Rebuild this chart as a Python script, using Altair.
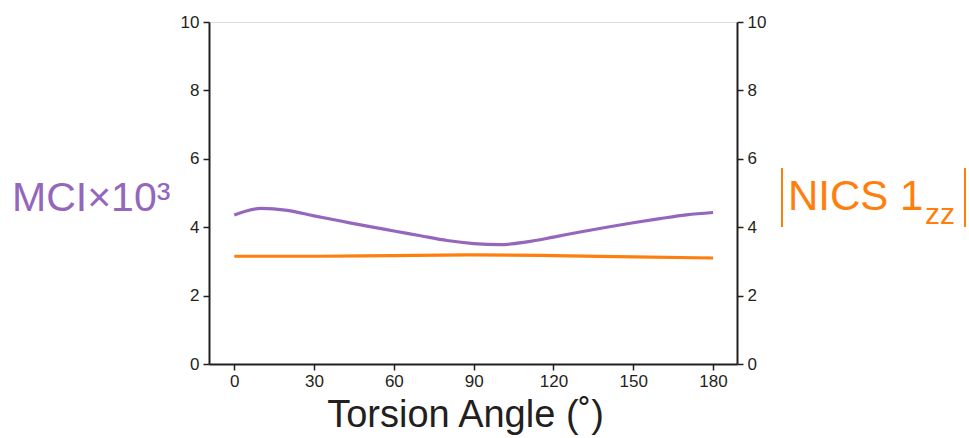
import altair as alt
import pandas as pd

angles_mci = [0, 10, 20, 30, 40, 50, 60, 70, 80, 90, 100, 110, 120, 130, 140, 150, 160, 170, 180]
mci = [4.36, 4.55, 4.49, 4.33, 4.18, 4.03, 3.89, 3.75, 3.61, 3.52, 3.49, 3.57, 3.71, 3.86, 4.00, 4.13, 4.25, 4.36, 4.43]
angles_nics = [0, 30, 60, 90, 120, 150, 180]
nics = [3.15, 3.15, 3.17, 3.19, 3.17, 3.13, 3.10]

purple = "#9467bd"
orange = "#ff7f0e"
FONT = "Liberation Sans"
INK = "#231f20"

df_m = pd.DataFrame({"angle": angles_mci, "val": mci})
df_n = pd.DataFrame({"angle": angles_nics, "val": nics})

xscale = alt.Scale(domain=[-9.5, 189], nice=False, zero=False)
yscale = alt.Scale(domain=[0, 10], nice=False)

xaxis = alt.Axis(values=[0, 30, 60, 90, 120, 150, 180], title="Torsion Angle (˚)",
                 titleFontSize=38, titleFont=FONT, titleFontWeight="normal", titleColor=INK,
                 titlePadding=7, titleX=256, titleAlign="center",
                 labelFontSize=17, labelFont=FONT, labelColor=INK,
                 domainColor=INK, domainWidth=2, tickColor=INK, tickWidth=1.5, tickSize=6,
                 grid=False, labelPadding=3)


def yaxis(orient):
    return alt.Axis(values=[0, 2, 4, 6, 8, 10], title=None, orient=orient,
                    labelFontSize=17, labelFont=FONT, labelColor=INK, domainColor=INK, domainWidth=2,
                    tickColor=INK, tickWidth=1.5, tickSize=6, grid=False, labelPadding=4)


left = alt.Chart(df_m).mark_line(color=purple, strokeWidth=3.2, interpolate="monotone").encode(
    x=alt.X("angle:Q", scale=xscale, axis=xaxis),
    y=alt.Y("val:Q", scale=yscale, axis=yaxis("left")),
)

right = alt.Chart(df_n).mark_line(color=orange, strokeWidth=3.2, interpolate="monotone").encode(
    x=alt.X("angle:Q", scale=xscale, axis=xaxis),
    y=alt.Y("val:Q", scale=yscale, axis=yaxis("right")),
)

lab = pd.DataFrame({"k": [0]})
mci_title = alt.Chart(lab).mark_text(text="MCI×10³", font=FONT, fontSize=41, color=purple,
                                     align="left", baseline="alphabetic").encode(
    x=alt.value(-197), y=alt.value(189))
nics_title = alt.Chart(lab).mark_text(text="NICS 1", font=FONT, fontSize=42, color=orange,
                                      align="left", baseline="alphabetic").encode(
    x=alt.value(579), y=alt.value(188))
nics_sub = alt.Chart(lab).mark_text(text="zz", font=FONT, fontSize=30, color=orange,
                                    align="left", baseline="alphabetic").encode(
    x=alt.value(716), y=alt.value(202))
bars = alt.Chart(pd.DataFrame({"bx": [573, 756]})).mark_rule(color=orange, strokeWidth=2).encode(
    x=alt.X("bx:Q", scale=None), y=alt.value(146), y2=alt.value(205))

chart = alt.layer(left, right, mci_title, nics_title, nics_sub, bars).resolve_scale(y="independent").properties(
    width=528, height=342,
    autosize=alt.AutoSizeParams(type="none"),
    padding={"left": 209, "top": 22, "right": 232, "bottom": 74},
).configure_view(stroke=None).configure(background="white")

chart.save("out.html", embed_options={"renderer": "svg", "actions": False})
